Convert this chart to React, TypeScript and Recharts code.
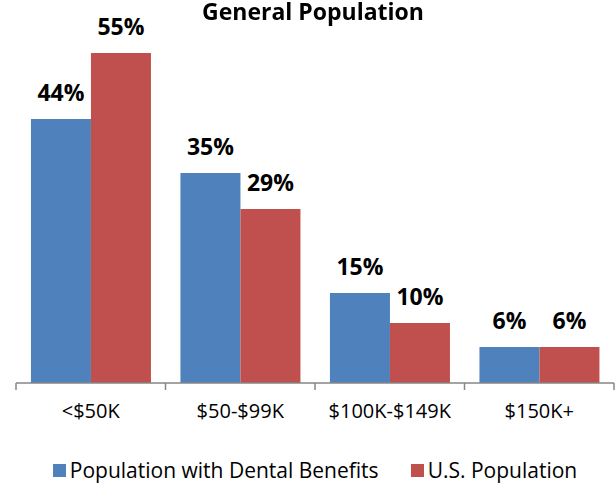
import React from "react";
import { BarChart, Bar, XAxis, YAxis, Legend, LabelList } from "recharts";

const categories = ["<$50K", "$50-$99K", "$100K-$149K", "$150K+"];
const dentalBenefits = [44, 35, 15, 6];
const usPopulation = [55, 29, 10, 6];
const seriesNames = ["Population with Dental Benefits", "U.S. Population"];

const BLUE = "#4F81BD";
const RED = "#C0504D";
const FONT = "'Open Sans', 'Noto Sans', sans-serif";
const TICK_SIZE = 7;
const TICK_MARGIN = 14;

const data = categories.map((name, i) => ({
  name,
  dental: dentalBenefits[i],
  us: usPopulation[i],
}));

// tick label at band center, tick line at band's left edge (and right edge for the last one)
const BoundaryTick = (props: any) => {
  const { x, y, payload, index } = props;
  const half = payload?.offset ?? 75;
  const last = index === categories.length - 1;
  const y0 = y - TICK_SIZE - TICK_MARGIN;
  return (
    <g>
      <line x1={x - half} y1={y0} x2={x - half} y2={y0 + TICK_SIZE} stroke="#868686" strokeWidth={1.5} />
      {last && <line x1={x + half} y1={y0} x2={x + half} y2={y0 + TICK_SIZE} stroke="#868686" strokeWidth={1.5} />}
      <text x={x} y={y} dy="0.71em" textAnchor="middle" fill="#000" fontSize={20} fontFamily={FONT}>
        {payload.value}
      </text>
    </g>
  );
};

const LegendContent = () => (
  <div
    style={{
      height: 30,
      display: "flex",
      justifyContent: "center",
      alignItems: "center",
      gap: 32,
      fontFamily: FONT,
      fontSize: 21,
      color: "#000",
    }}
  >
    {[BLUE, RED].map((c, i) => (
      <div key={i} style={{ display: "flex", alignItems: "center" }}>
        <span style={{ width: 13, height: 13, background: c, marginRight: 4, display: "inline-block" }} />
        {seriesNames[i]}
      </div>
    ))}
  </div>
);

const labelStyle = { fontFamily: FONT, fontWeight: 700, fontSize: 23, fill: "#000" };

export default function App() {
  return (
    <div style={{ position: "fixed", left: 0, top: 0, width: 616, height: 485, background: "#fff" }}>
      <div
        style={{
          position: "absolute",
          top: 0,
          left: 0,
          width: 626,
          textAlign: "center",
          fontFamily: FONT,
          fontWeight: 700,
          fontSize: 23,
          lineHeight: "23px",
          zIndex: 2,
        }}
      >
        General Population
      </div>
      <BarChart
        width={616}
        height={485}
        data={data}
        margin={{ top: 23, right: 2, left: 16, bottom: 0 }}
        barCategoryGap="10%"
        barGap={0}
      >
        <XAxis
          dataKey="name"
          height={72}
          axisLine={{ stroke: "#868686", strokeWidth: 1.5 }}
          tickLine={false}
          tickSize={TICK_SIZE}
          tickMargin={TICK_MARGIN}
          tick={<BoundaryTick />}
        />
        <YAxis hide domain={[0, 60]} />
        <Legend verticalAlign="bottom" content={<LegendContent />} />
        <Bar dataKey="dental" name={seriesNames[0]} fill={BLUE} isAnimationActive={false}>
          <LabelList dataKey="dental" position="top" offset={18} formatter={(v: any) => `${v}%`} style={labelStyle} />
        </Bar>
        <Bar dataKey="us" name={seriesNames[1]} fill={RED} isAnimationActive={false}>
          <LabelList dataKey="us" position="top" offset={18} formatter={(v: any) => `${v}%`} style={labelStyle} />
        </Bar>
      </BarChart>
    </div>
  );
}
